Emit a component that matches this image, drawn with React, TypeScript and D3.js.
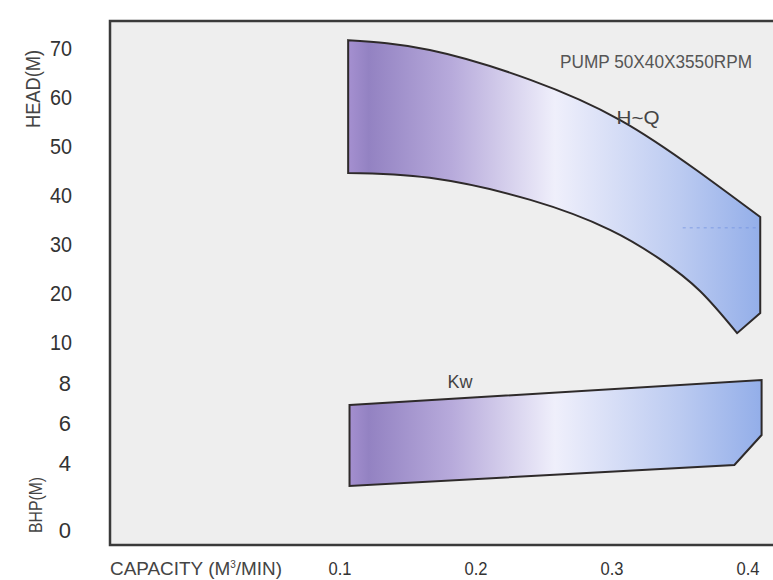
import React from 'react';
import * as d3 from 'd3';

// capacity (m3/min) vs head (m) – upper and lower edge of the H~Q band
const hqUpperQ = [0.106, 0.166, 0.24, 0.306, 0.362, 0.409];
const hqUpperH = [71.6, 69.6, 63.5, 55.3, 45.1, 35.5];
const hqLowerQ = [0.106, 0.166, 0.24, 0.2985, 0.3353, 0.3647, 0.392];
const hqLowerH = [44.5, 43.5, 39.0, 32.9, 26.9, 20.4, 11.8];
const hqRightQ = [0.409, 0.392];
const hqRightH = [15.9, 11.8];
// faint duty-point mark
const dutyQ = [0.352, 0.408];
const dutyH = 33.3;

// Kw band (BHP)
const kwTopQ = [0.107, 0.41];
const kwTopB = [6.9, 8.15];
const kwRightQ = [0.41, 0.39];
const kwRightB = [5.4, 3.88];
const kwBottomQ = [0.39, 0.107];
const kwBottomB = [3.88, 2.63];

const xTicks = [0.1, 0.2, 0.3, 0.4];
const headTicks = [70, 60, 50, 40, 30, 20, 10];
const bhpTicks = [8, 6, 4, 0];

const W = 773;
const H = 580;
const FONT = "'Liberation Sans', Arial, sans-serif";

const x = d3.scaleLinear().domain([0.1, 0.4]).range([340, 748]);
const yHead = d3.scaleLinear().domain([10, 70]).range([342, 48]);
const yBhp = d3.scaleLinear().domain([0, 4, 8]).range([530, 463, 383]);

const zip = (qs: number[], vs: number[], y: d3.ScaleLinear<number, number>) =>
  qs.map((q, i) => [x(q), y(vs[i])] as [number, number]);

const curve = d3.line().curve(d3.curveNatural);
const straight = d3.line();

function hqPath() {
  const up = zip(hqUpperQ, hqUpperH, yHead);
  const right = zip(hqRightQ, hqRightH, yHead);
  const low = zip(hqLowerQ, hqLowerH, yHead).reverse();
  const upD = curve(up) as string;
  const lowD = (curve(low) as string).replace(/^M/, 'L');
  const rightD = right.map(p => `L${p[0]},${p[1]}`).join('');
  return upD + rightD + lowD + 'Z';
}

function kwPath() {
  const pts = [
    ...zip(kwTopQ, kwTopB, yBhp),
    ...zip(kwRightQ, kwRightB, yBhp),
    ...zip(kwBottomQ, kwBottomB, yBhp),
  ];
  return (straight(pts) as string) + 'Z';
}

export default function App() {
  return (
    <svg width={W} height={H} style={{ position: 'absolute', left: 0, top: 0 }} fontFamily={FONT}>
      <defs>
        <linearGradient id="band" gradientUnits="userSpaceOnUse" x1={x(0.106)} x2={x(0.41)} y1={0} y2={0}>
          <stop offset="0" stopColor="#a590d0" />
          <stop offset="0.05" stopColor="#9382c2" />
          <stop offset="0.25" stopColor="#b7aadb" />
          <stop offset="0.5" stopColor="#efeffb" />
          <stop offset="0.8" stopColor="#bccbf1" />
          <stop offset="1" stopColor="#93aee9" />
        </linearGradient>
      </defs>
      <rect width={W} height={H} fill="#ffffff" />
      {/* plot area */}
      <rect x={110} y={21} width={700} height={524} fill="#eeeeee" stroke="#3a3a3a" strokeWidth={2.5} />

      <path d={hqPath()} fill="url(#band)" stroke="#2e2a2a" strokeWidth={2} />
      <path d={kwPath()} fill="url(#band)" stroke="#2e2a2a" strokeWidth={2} />
      <line x1={x(dutyQ[0])} x2={x(dutyQ[1])} y1={yHead(dutyH)} y2={yHead(dutyH)} stroke="#6f8fe0" strokeWidth={1} strokeDasharray="3,4" opacity={0.7} />

      {/* annotations */}
      <text x={656} y={68} textAnchor="middle" fontSize={18} fill="#555" textLength={192} lengthAdjust="spacingAndGlyphs">PUMP  50X40X3550RPM</text>
      <text x={638} y={124} textAnchor="middle" fontSize={19} fill="#444" textLength={43} lengthAdjust="spacingAndGlyphs">H~Q</text>
      <text x={460} y={388} textAnchor="middle" fontSize={18} fill="#444">Kw</text>

      {/* left axis labels */}
      {headTicks.map(t => (
        <text key={'h' + t} x={72} y={yHead(t)} dy="0.36em" textAnchor="end" fontSize={22} fill="#333"
          textLength={22} lengthAdjust="spacingAndGlyphs">{t}</text>
      ))}
      {bhpTicks.map(t => (
        <text key={'b' + t} x={71} y={yBhp(t)} dy="0.36em" textAnchor="end" fontSize={22} fill="#333">{t}</text>
      ))}
      <text transform="translate(40,89) rotate(-90)" textAnchor="middle" fontSize={20} fill="#444" textLength={78} lengthAdjust="spacingAndGlyphs">HEAD(M)</text>
      <text transform="translate(42,505) rotate(-90)" textAnchor="middle" fontSize={19} fill="#444" textLength={56} lengthAdjust="spacingAndGlyphs">BHP(M)</text>

      {/* bottom axis */}
      {xTicks.map(t => (
        <text key={'x' + t} x={x(t)} y={575} textAnchor="middle" fontSize={18} fill="#333"
          textLength={23} lengthAdjust="spacingAndGlyphs">{d3.format('.1f')(t)}</text>
      ))}
      <text x={110} y={575} fontSize={19} fill="#444" textLength={172} lengthAdjust="spacingAndGlyphs">
        CAPACITY (M<tspan dy={-7} fontSize={10}>3</tspan><tspan dy={7}>/MIN)</tspan>
      </text>
    </svg>
  );
}
